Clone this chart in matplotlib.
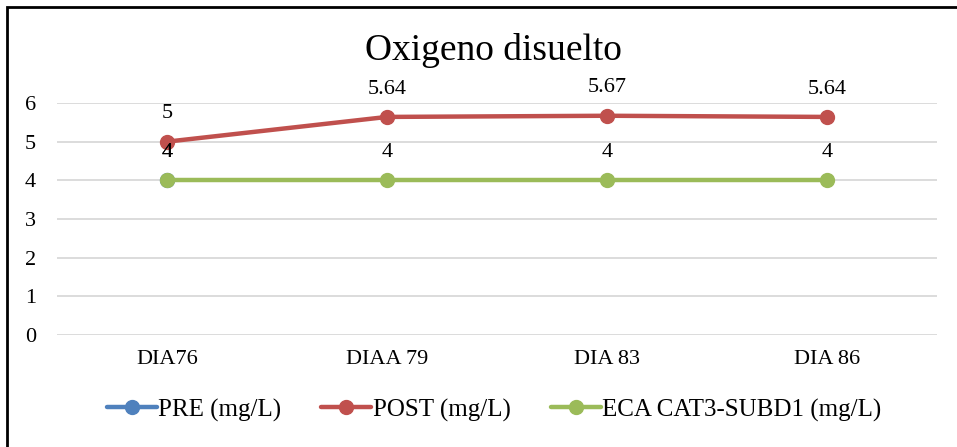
import numpy as np
import matplotlib.pyplot as plt
from matplotlib.patches import Rectangle

plt.rcParams['font.family'] = ['Liberation Serif', 'DejaVu Serif']

dias = ['DIA76', 'DIAA 79', 'DIA 83', 'DIA 86']
pre = [4, np.nan, np.nan, np.nan]
post = [5, 5.64, 5.67, 5.64]
eca = [4, 4, 4, 4]

series = [
    ('PRE (mg/L)', pre, '#4F81BD'),
    ('POST (mg/L)', post, '#C0504D'),
    ('ECA CAT3-SUBD1 (mg/L)', eca, '#9BBB59'),
]

fig = plt.figure(figsize=(9.57, 4.47), dpi=100)
ax = fig.add_axes([57 / 957, 1 - 335 / 447, 880 / 957, 232 / 447])

x = np.arange(len(dias))
for name, vals, col in series:
    ax.plot(x, vals, color=col, lw=3.2, marker='o', ms=10, label=name,
            solid_capstyle='round')
    for xi, v in zip(x, vals):
        if np.isnan(v):
            continue
        lbl = '{:g}'.format(v)
        ax.annotate(lbl, (xi, v), xytext=(0, 20), textcoords='offset points',
                    ha='center', va='center', fontsize=16)

ax.set_xlim(-0.5, len(dias) - 0.5)
ax.set_ylim(0, 6)
ax.set_yticks(range(0, 7))
ax.set_xticks(x)
ax.set_xticklabels(dias)
ax.tick_params(length=0, labelsize=16)
ax.tick_params(axis='y', pad=15)
ax.tick_params(axis='x', pad=11)
ax.grid(axis='y', color='#D9D9D9', lw=1.3)
ax.set_axisbelow(True)
for s in ax.spines.values():
    s.set_visible(False)

fig.text(493 / 957, 1 - 50 / 447, 'Oxigeno disuelto', ha='center', va='center',
         fontsize=27)

fig.legend(loc='center', bbox_to_anchor=(494 / 957, 1 - 410 / 447), ncol=3,
           frameon=False, fontsize=18, handlelength=2.0, columnspacing=1.6,
           handletextpad=0.05)

# outer frame
fig.add_artist(Rectangle((7 / 957, -0.1), 1.2, 1 - 7 / 447 + 0.1,
                         transform=fig.transFigure, fill=False,
                         edgecolor='black', lw=2))

fig.savefig('out.png', dpi=100)
